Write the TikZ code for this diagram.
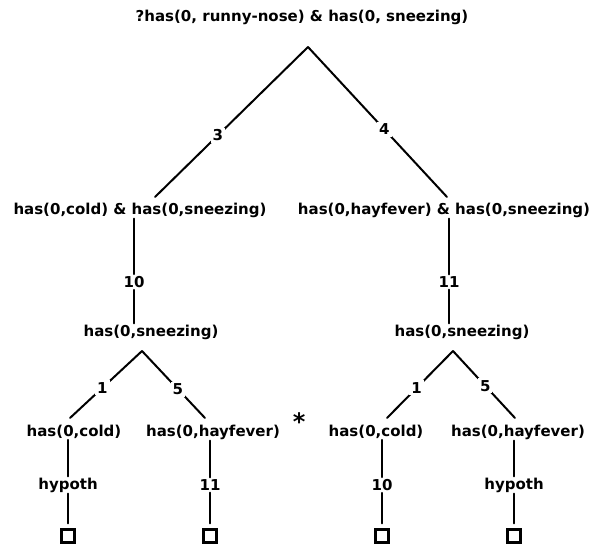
\documentclass[tikz,border=0pt]{standalone}
\usepackage{fontspec}
\setmainfont{DejaVu Sans}
\usepackage{tikz}

\begin{document}
\begin{tikzpicture}[x=1pt,y=-1pt]
\tikzstyle{goal} = [inner sep=1pt,font=\bfseries\fontsize{15}{17}\selectfont]
\tikzstyle{num} = [fill=white,inner sep=2pt,font=\bfseries\fontsize{15}{17}\selectfont]
\tikzstyle{edge} = [line width=2pt,line cap=round]
\tikzstyle{leaf} = [draw,line width=2.2pt,minimum size=13pt,inner sep=0pt]

\path[fill=white,use as bounding box] (0,0) rectangle (604,546);

% goals
\node[goal] (g0) at (302,17) {?has(0, runny-nose) \& has(0, sneezing)};
\node[goal] (g1) at (140,210) {has(0,cold) \& has(0,sneezing)};
\node[goal] (g2) at (444,210) {has(0,hayfever) \& has(0,sneezing)};
\node[goal] (g3) at (151,332) {has(0,sneezing)};
\node[goal] (g4) at (462,332) {has(0,sneezing)};
\node[goal] (g5) at (74,432) {has(0,cold)};
\node[goal] (g6) at (213,432) {has(0,hayfever)\rlap{\smash{\hspace{13pt}\raisebox{6pt}{\fontsize{24}{24}\selectfont*}}}};
\node[goal] (g7) at (376,432) {has(0,cold)};
\node[goal] (g8) at (518,432) {has(0,hayfever)};

% rule numbers and leaves
\node[num] (r1) at (134,282) {10};
\node[num] (r2) at (449,282) {11};
\node[goal] (h1) at (68,485) {hypoth};
\node[num] (h2) at (210,485) {11};
\node[num] (h3) at (382,485) {10};
\node[goal] (h4) at (514,485) {hypoth};
\node[leaf] (b1) at (68,536) {};
\node[leaf] (b2) at (210,536) {};
\node[leaf] (b3) at (382,536) {};
\node[leaf] (b4) at (514,536) {};

\coordinate (a0) at (308,47);
\coordinate (a1) at (142,351);
\coordinate (a2) at (453,351);
\coordinate (t1) at (155,197);
\coordinate (t2) at (447,197);
\coordinate (t3) at (70,418);
\coordinate (t4) at (205,418);
\coordinate (t5) at (387,418);
\coordinate (t6) at (515,418);

\draw[edge] (a0) -- node[num,pos=.59] {3} (t1);
\draw[edge] (a0) -- node[num,pos=.55] {4} (t2);
\draw[edge] (r1.north |- g1.south) -- (r1) -- (r1.south |- g3.north);
\draw[edge] (r2.north |- g2.south) -- (r2) -- (r2.south |- g4.north);
\draw[edge] (a1) -- node[num,pos=.55] {1} (t3);
\draw[edge] (a1) -- node[num,pos=.57] {5} (t4);
\draw[edge] (a2) -- node[num,pos=.55] {1} (t5);
\draw[edge] (a2) -- node[num,pos=.52] {5} (t6);

\draw[edge] (h1.north |- g5.south) -- (h1);
\draw[edge,shorten >=5pt] (h1) -- (b1);
\draw[edge] (h2.north |- g6.south) -- (h2);
\draw[edge,shorten >=5pt] (h2) -- (b2);
\draw[edge] (h3.north |- g7.south) -- (h3);
\draw[edge,shorten >=5pt] (h3) -- (b3);
\draw[edge] (h4.north |- g8.south) -- (h4);
\draw[edge,shorten >=5pt] (h4) -- (b4);
\end{tikzpicture}
\end{document}
